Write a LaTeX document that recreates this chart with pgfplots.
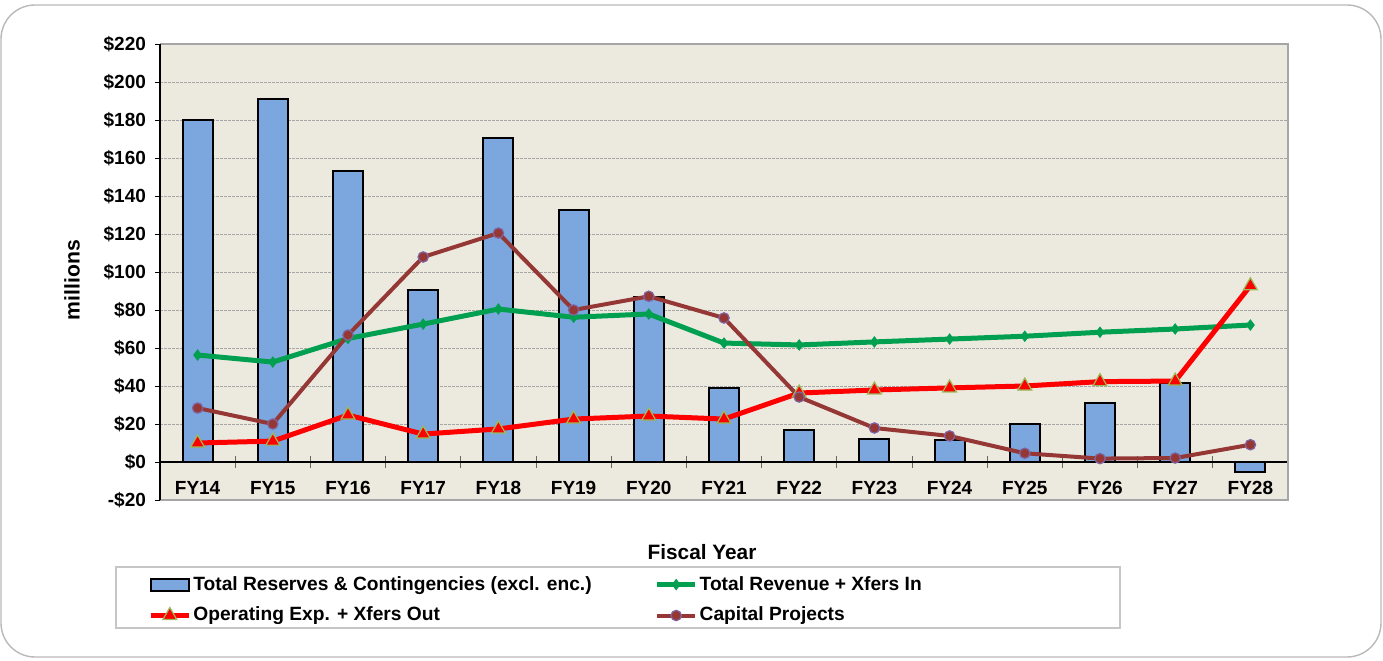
\documentclass[border=0pt]{standalone}
\usepackage{pgfplots}
\pgfplotsset{compat=1.18}
\usepackage{fontspec}
\setmainfont{Liberation Sans}
\definecolor{bgc}{RGB}{236,233,223}
\definecolor{barc}{RGB}{123,167,222}
\definecolor{revc}{RGB}{0,160,80}
\definecolor{opc}{RGB}{255,0,0}
\definecolor{opedge}{RGB}{155,187,89}
\definecolor{capc}{RGB}{149,55,53}
\definecolor{capedge}{RGB}{128,100,162}
\pgfplotsset{
  barlegend/.style={legend image code/.code={\draw[##1] (0pt,-3pt) rectangle (19pt,3pt);}},
  linelegend/.style={legend image code/.code={\draw[mark repeat=2,mark phase=2,##1] plot coordinates {(0pt,0pt) (9.5pt,0pt) (19pt,0pt)};}},
}
\begin{document}
\begin{tikzpicture}
\useasboundingbox (0,0) rectangle (691.5pt,330pt);
\draw[gray!55, line width=0.7pt, rounded corners=17pt] (0.5pt,1.5pt) rectangle (690.5pt,327.5pt);
\draw[gray!45, line width=0.6pt] (58pt,16pt) rectangle (560pt,46.5pt);
\begin{axis}[
  at={(80pt,80pt)}, anchor=south west,
  scale only axis, width=564pt, height=228pt,
  xmin=-0.5, xmax=14.5, ymin=-20, ymax=220,
  axis background/.style={fill=bgc},
  axis x line*=middle, axis y line*=left,
  axis line style={black, line width=0.7pt},
  xtick={0,...,14},
  xticklabels={FY14,FY15,FY16,FY17,FY18,FY19,FY20,FY21,FY22,FY23,FY24,FY25,FY26,FY27,FY28},
  minor xtick={-0.5,0.5,...,14.5},
  major x tick style={draw=none},
  minor x tick style={gray!80!black, line width=0.5pt},
  minor tick length=6pt,
  xtick align=center,
  ytick={-20,0,20,...,220},
  yticklabels={-\$20,\$0,\$20,\$40,\$60,\$80,\$100,\$120,\$140,\$160,\$180,\$200,\$220},
  ytick align=outside,
  major tick length=2.5pt,
  y tick style={black, line width=0.5pt},
  ymajorgrids,
  grid style={gray!70, line width=0.4pt, dash pattern=on 1.5pt off 0.5pt},
  tick label style={font=\fontsize{9.5}{11}\selectfont\bfseries},
  xticklabel style={yshift=-5pt},
  yticklabel style={xshift=-1pt},
  xlabel={Fiscal Year},
  xlabel style={at={(rel axis cs:0.4805,0)}, yshift=-26pt, anchor=center, font=\fontsize{10.4}{12}\selectfont\bfseries},
  ylabel={millions},
  ylabel style={at={(rel axis cs:-0.078,0.482)}, rotate=0, anchor=center, font=\fontsize{10.6}{12}\selectfont\bfseries},
  legend columns=2,
  legend cell align=left,
  legend style={draw=none, fill=none, at={(rel axis cs:-0.016,-0.2194)}, anchor=west,
    font=\fontsize{9.6}{11}\selectfont\bfseries, row sep=5pt,
    nodes={inner sep=1pt},
    /tikz/every even column/.append style={column sep=30.5pt}},
  clip=false,
]
\addplot[ybar, bar width=15pt, fill=barc, draw=black, line width=1pt, barlegend]
  coordinates {(0,180) (1,191) (2,153) (3,90.5) (4,170.5) (5,132.6) (6,87) (7,39) (8,16.8) (9,12) (10,11.6) (11,20) (12,31) (13,41.7) (14,-5.5)};
\addlegendentry{Total Reserves \& Contingencies (excl. enc.)}
\addplot[revc, line width=2.5pt, mark=diamond*, mark size=2.6pt, mark options={fill=revc, draw=revc, line width=0.4pt}, linelegend]
  coordinates {(0,56.3) (1,52.6) (2,65) (3,72.6) (4,80.5) (5,76.2) (6,77.9) (7,62.6) (8,61.6) (9,63.2) (10,64.7) (11,66.2) (12,68.3) (13,70) (14,72.1)};
\addlegendentry{Total Revenue + Xfers In}
\addplot[opc, line width=2.5pt, mark=triangle*, mark size=4pt, mark options={fill=opc, draw=opedge, line width=0.6pt}, linelegend]
  coordinates {(0,10) (1,11) (2,24.7) (3,14.7) (4,17.4) (5,22.6) (6,24.2) (7,22.6) (8,36.3) (9,37.9) (10,39) (11,40) (12,42.3) (13,42.6) (14,92.8)};
\addlegendentry{Operating Exp. + Xfers Out}
\addplot[capc, line width=2pt, mark=*, mark size=2.6pt, mark options={fill=capc, draw=capedge, line width=0.6pt}, linelegend]
  coordinates {(0,28.4) (1,20) (2,66.8) (3,107.9) (4,120.5) (5,80) (6,87.2) (7,75.8) (8,34.2) (9,17.9) (10,13.7) (11,4.6) (12,1.8) (13,2.1) (14,9.1)};
\addlegendentry{Capital Projects}
\draw[gray!70, line width=0.8pt] (rel axis cs:0,0) -- (rel axis cs:1,0) -- (rel axis cs:1,1) -- (rel axis cs:0,1);
\draw[black, line width=0.7pt] (rel axis cs:0,0) -- (rel axis cs:0,1);
\end{axis}
\end{tikzpicture}
\end{document}
